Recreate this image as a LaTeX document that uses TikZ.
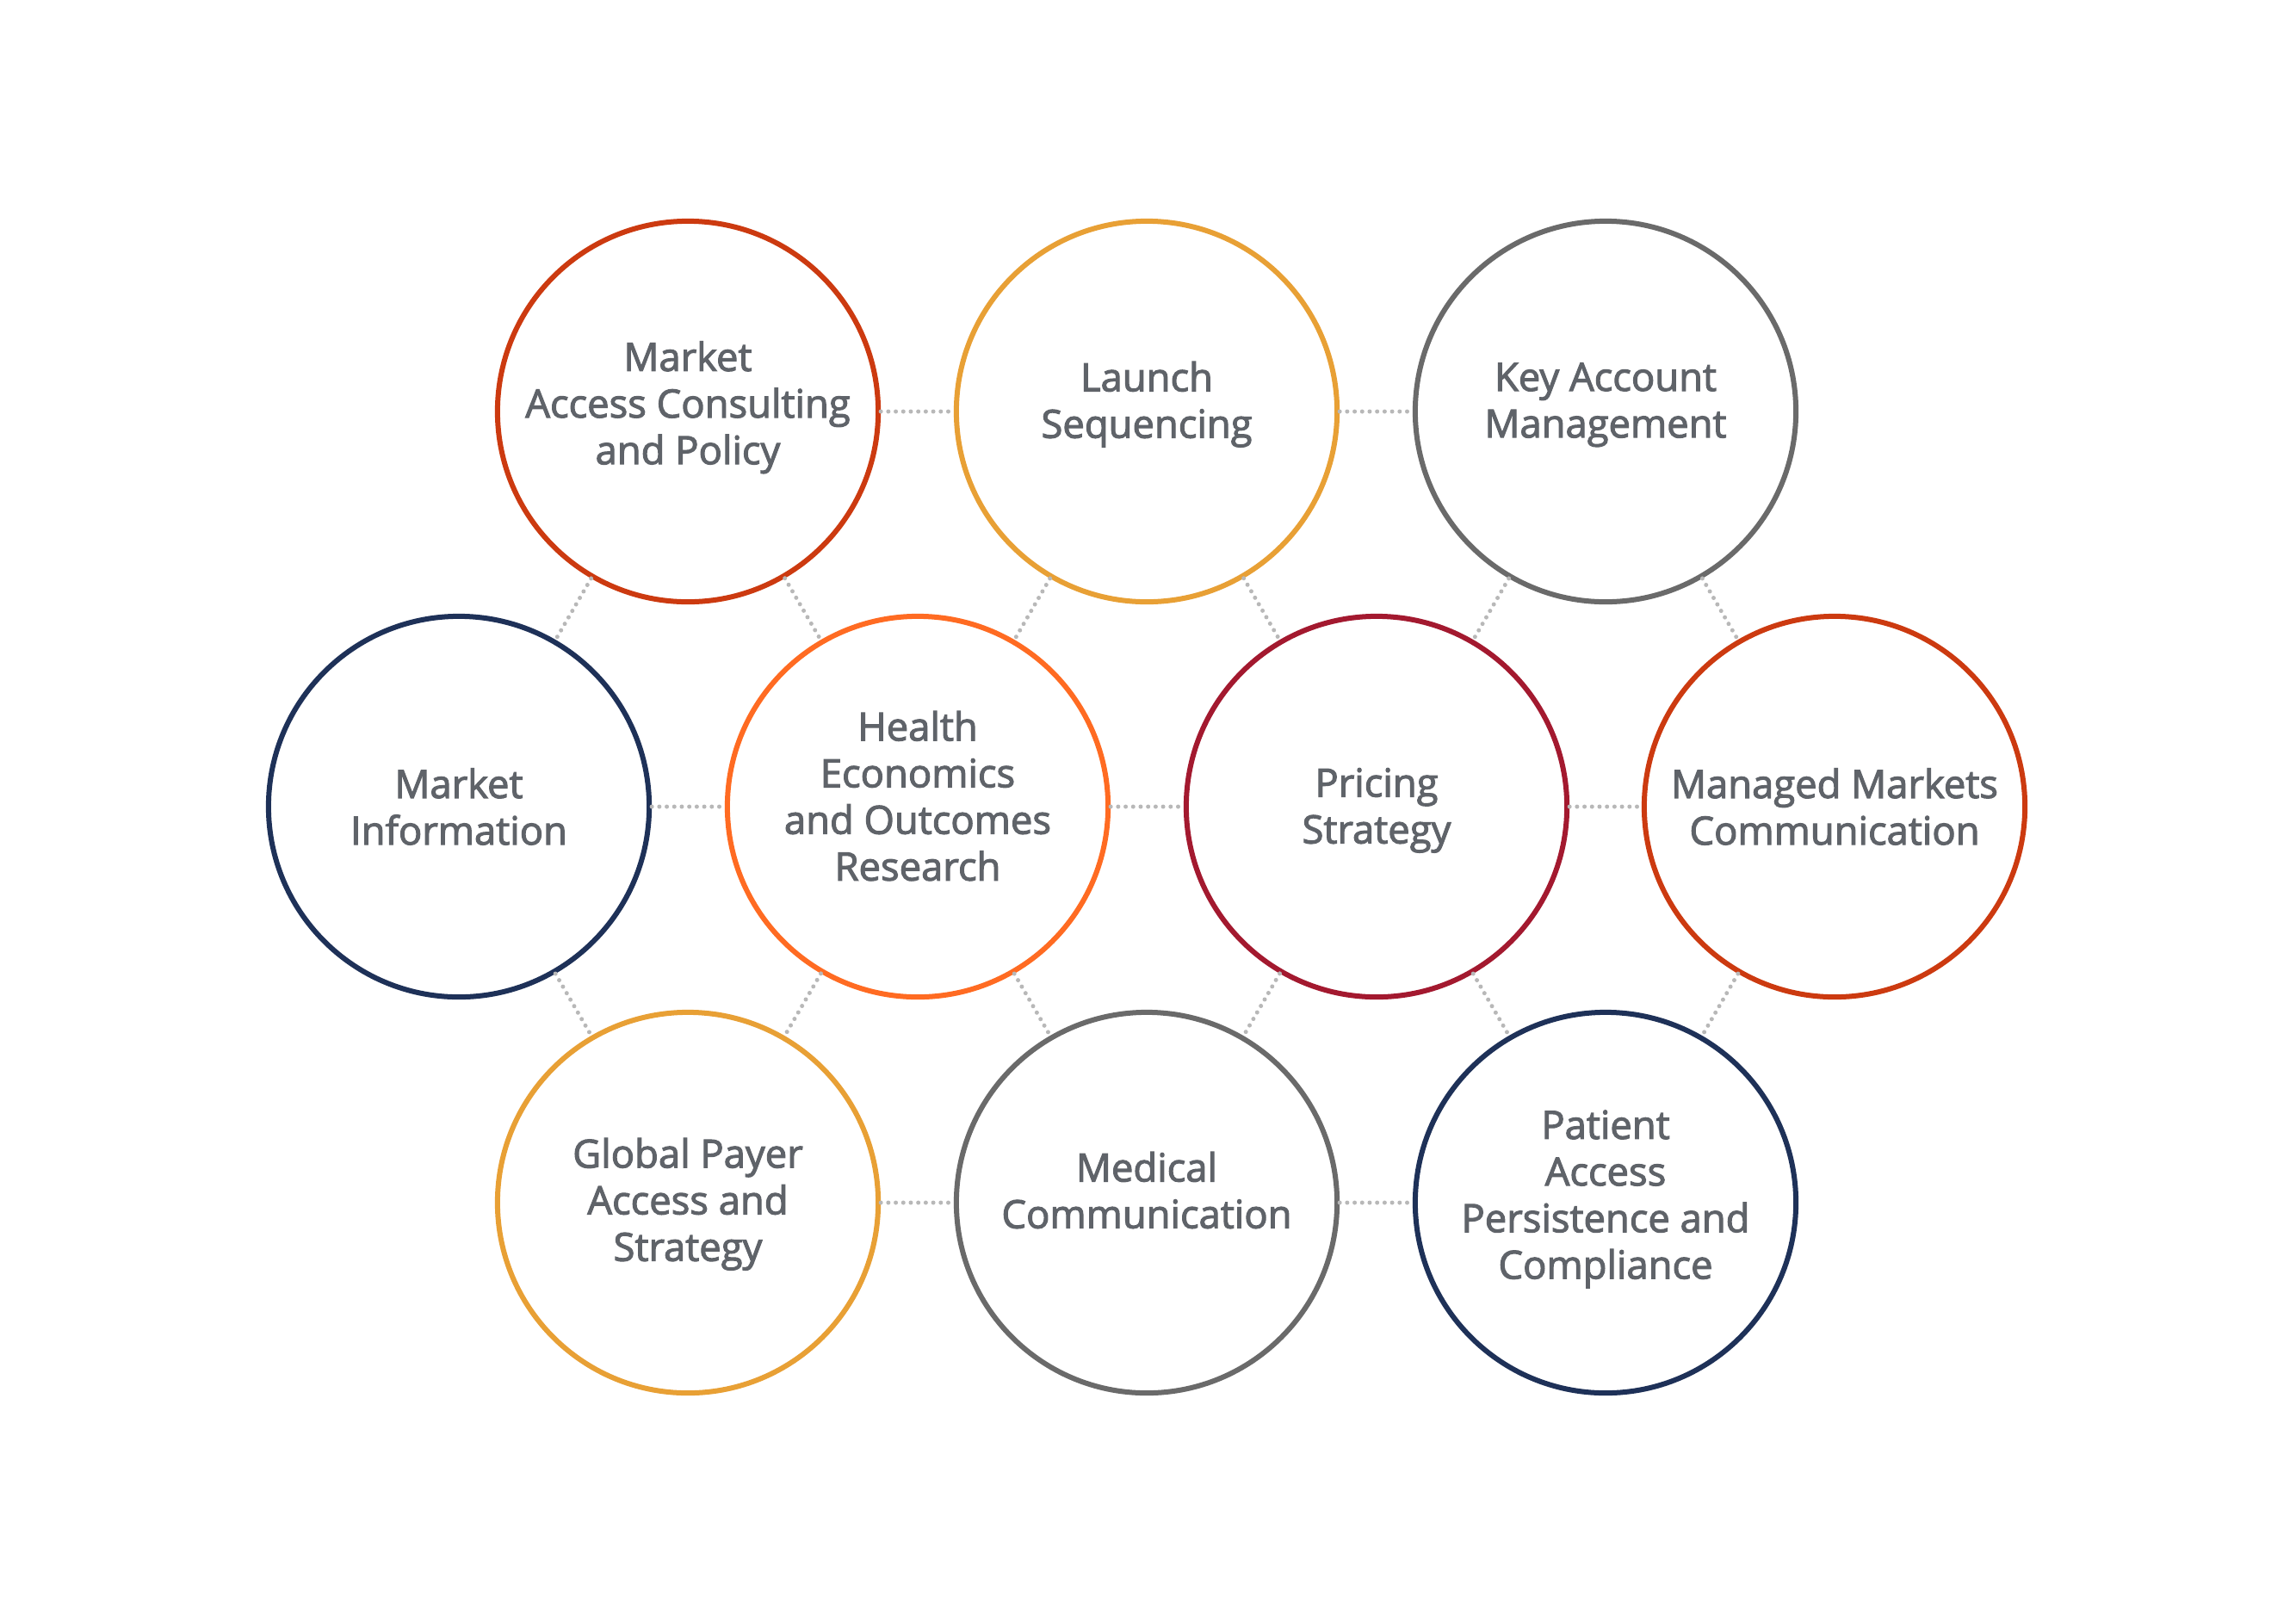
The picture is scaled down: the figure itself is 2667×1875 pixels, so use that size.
\documentclass[tikz,border=0pt]{standalone}
\usepackage{fontspec}
\newfontfamily\labelfont{Open Sans}[FakeBold=2.4]
\usepackage{xcolor}
\definecolor{rustred}{HTML}{CC3A10}
\definecolor{amber}{HTML}{E8A035}
\definecolor{slategray}{HTML}{6A6A6A}
\definecolor{navy}{HTML}{1E3158}
\definecolor{brightorange}{HTML}{FF6B22}
\definecolor{crimson}{HTML}{A3192F}
\definecolor{labelgray}{HTML}{5F6369}
\definecolor{dotgray}{HTML}{B8B8B8}
% invisible struts to nudge a label up (\lift) or down (\sink)
\newcommand{\lift}[1]{\rule[-#1]{0pt}{0pt}}
\newcommand{\sink}[1]{\rule{0pt}{#1}}

\begin{document}
\begin{tikzpicture}[x=0.01cm,y=-0.01cm,
  service/.style={circle,draw,line width=0.06cm,minimum size=4.42cm,inner sep=0pt,align=center,text=labelgray,font=\labelfont\fontsize{12.9pt}{15.4pt}\selectfont},
  link/.style={draw=dotgray,line width=0.05cm,line cap=round,dash pattern=on 0pt off 0.087cm}]
\useasboundingbox (0,0) rectangle (2667,1875);

% Top row
\node[service,draw=rustred] (mac) at (799,478) {Market\\Access Consulting\\and Policy\lift{0.204cm}};
\node[service,draw=amber] (launch) at (1332,478) {Launch\\Sequencing\lift{0.274cm}};
\node[service,draw=slategray] (kam) at (1865,478) {Key Account\\Management\lift{0.263cm}};

% Middle row
\node[service,draw=navy] (minfo) at (533,937) {Market\\Information};
\node[service,draw=brightorange] (heor) at (1066,937) {Health\\Economics\\and Outcomes\\Research\lift{0.254cm}};
\node[service,draw=crimson] (pricing) at (1599,937) {\sink{0.419cm}Pricing\\Strategy};
\node[service,draw=rustred] (mmc) at (2131,937) {Managed Markets\\Communication};

% Bottom row
\node[service,draw=amber] (gpa) at (799,1397) {\sink{0.379cm}Global Payer\\Access and\\Strategy};
\node[service,draw=slategray] (medcomm) at (1332,1397) {Medical\\Communication\lift{0.294cm}};
\node[service,draw=navy] (patient) at (1865,1397) {Patient\\Access\\Persistence and\\Compliance\lift{0.19cm}};

% Horizontal links
\draw[link] (mac) -- (launch);
\draw[link] (launch) -- (kam);
\draw[link] (minfo) -- (heor);
\draw[link] (heor) -- (pricing);
\draw[link] (pricing) -- (mmc);
\draw[link] (gpa) -- (medcomm);
\draw[link] (medcomm) -- (patient);

% Diagonal links, top to middle
\draw[link] (mac) -- (minfo);
\draw[link] (mac) -- (heor);
\draw[link] (launch) -- (heor);
\draw[link] (launch) -- (pricing);
\draw[link] (kam) -- (pricing);
\draw[link] (kam) -- (mmc);

% Diagonal links, middle to bottom
\draw[link] (minfo) -- (gpa);
\draw[link] (heor) -- (gpa);
\draw[link] (heor) -- (medcomm);
\draw[link] (pricing) -- (medcomm);
\draw[link] (pricing) -- (patient);
\draw[link] (mmc) -- (patient);
\end{tikzpicture}
\end{document}
